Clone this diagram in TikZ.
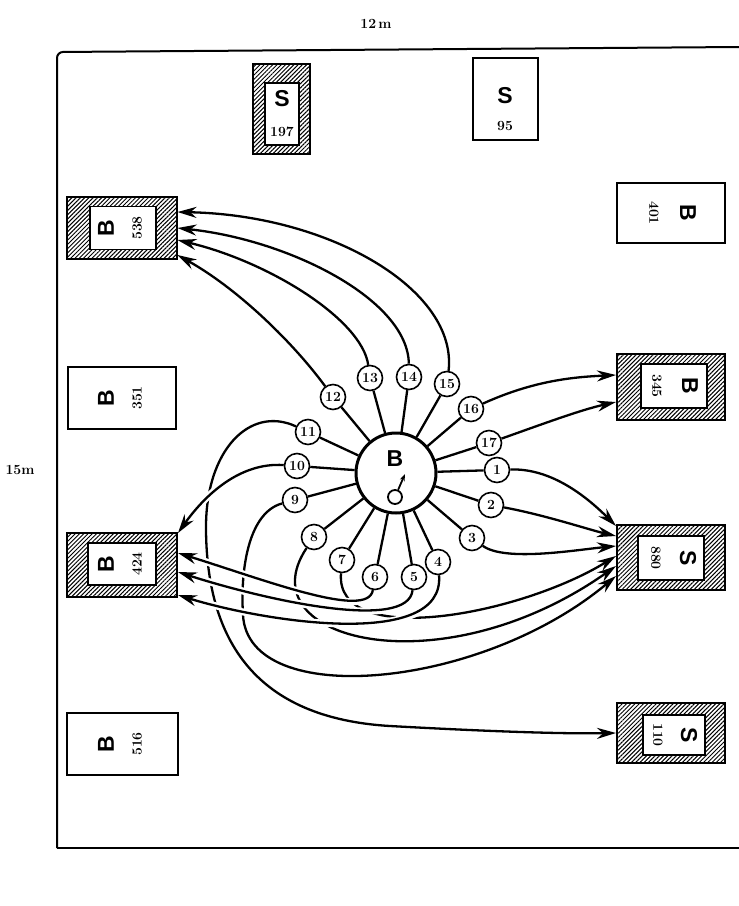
\documentclass[tikz,border=0pt]{standalone}
\usepackage{fontspec}
\newfontfamily\lettersf{Liberation Sans}
\usetikzlibrary{arrows.meta,patterns.meta}

\tikzset{
  field/.style={line width=2pt},
  plainbox/.style={draw, line width=2pt, inner sep=0pt},
  hatchbox/.style={plainbox, pattern={Lines[angle=45,distance=3pt,line width=1pt]}},
  innerbox/.style={draw, line width=1.5pt, fill=white, inner sep=0pt},
  letter/.style={font=\lettersf\bfseries\fontsize{23}{24}\selectfont, inner sep=0pt},
  digits/.style={font=\bfseries\fontsize{14}{15}\selectfont, inner sep=0pt},
  tag/.style={circle, draw, line width=1.6pt, fill=white, inner sep=0pt,
    minimum size=25pt, font=\bfseries\fontsize{14}{15}\selectfont},
  spoke/.style={line width=2.3pt},
  flow/.style={-{Stealth[length=19pt,width=11pt]}, line width=2.3pt},
  over/.style={preaction={draw=white, line width=7pt, -, shorten >=12pt, shorten <=2pt}},
}

\begin{document}
\begin{tikzpicture}[x=1pt, y=-1pt]
  \useasboundingbox (0,0) rectangle (739,906);

  % room outline and its sizes
  \draw[field, rounded corners=6pt] (57,848) -- (57,52) -- (739,47);
  \draw[field] (57,848) -- (739,848);
  \node[digits] (width) at (376,24) {12\,m};
  \node[digits] (height) at (20,470) {15m};

  % boxes, left column
  \node[hatchbox, minimum width=110pt, minimum height=62pt] (b538) at (122,228) {};
  \node[innerbox, minimum width=66pt, minimum height=43pt] (b538in) at (123,228) {};
  \node[letter, rotate=90] (b538l) at (106,228) {B};
  \node[digits, rotate=90] (b538n) at (137,228) {538};

  \node[plainbox, minimum width=108pt, minimum height=62pt] (b351) at (122,398) {};
  \node[letter, rotate=90] (b351l) at (106,398) {B};
  \node[digits, rotate=90] (b351n) at (137,398) {351};

  \node[hatchbox, minimum width=110pt, minimum height=64pt] (b424) at (122,565) {};
  \node[innerbox, minimum width=68pt, minimum height=42pt] (b424in) at (122,564) {};
  \node[letter, rotate=90] (b424l) at (106,564) {B};
  \node[digits, rotate=90] (b424n) at (137,564) {424};

  \node[plainbox, minimum width=111pt, minimum height=62pt] (b516) at (122,744) {};
  \node[letter, rotate=90] (b516l) at (106,744) {B};
  \node[digits, rotate=90] (b516n) at (137,744) {516};

  % boxes, right column
  \node[plainbox, minimum width=108pt, minimum height=60pt] (b401) at (671,213) {};
  \node[digits, rotate=-90] (b401n) at (654,213) {401};
  \node[letter, rotate=-90] (b401l) at (688,213) {B};

  \node[hatchbox, minimum width=108pt, minimum height=66pt] (b345) at (671,387) {};
  \node[innerbox, minimum width=66pt, minimum height=44pt] (b345in) at (674,386) {};
  \node[digits, rotate=-90] (b345n) at (657,386) {345};
  \node[letter, rotate=-90] (b345l) at (690,386) {B};

  \node[hatchbox, minimum width=108pt, minimum height=65pt] (s880) at (671,557) {};
  \node[innerbox, minimum width=66pt, minimum height=44pt] (s880in) at (671,558) {};
  \node[digits, rotate=-90] (s880n) at (656,558) {880};
  \node[letter, rotate=-90] (s880l) at (688,558) {S};

  \node[hatchbox, minimum width=108pt, minimum height=60pt] (s110) at (671,733) {};
  \node[innerbox, minimum width=62pt, minimum height=40pt] (s110in) at (674,735) {};
  \node[digits, rotate=-90] (s110n) at (658,735) {110};
  \node[letter, rotate=-90] (s110l) at (689,735) {S};

  % boxes, top row
  \node[hatchbox, minimum width=57pt, minimum height=90pt] (s197) at (281,109) {};
  \node[innerbox, minimum width=34pt, minimum height=62pt] (s197in) at (282,114) {};
  \node[letter] (s197l) at (282,99) {S};
  \node[digits] (s197n) at (282,132) {197};

  \node[plainbox, minimum width=65pt, minimum height=82pt] (s95) at (505,99) {};
  \node[letter] (s95l) at (505,96) {S};
  \node[digits] (s95n) at (505,126) {95};

  % the male in the middle
  \node[circle, draw, line width=3pt, minimum size=80pt, inner sep=0pt] (hub) at (396,473) {};
  \node[letter] (hubl) at (395,459) {B};
  \node[circle, draw, line width=1.8pt, minimum size=14pt, inner sep=0pt] (male) at (395,497) {};
  \coordinate (maletip) at (405,474);
  \draw[line width=1.8pt, -{Stealth[length=7pt,width=5pt]}] (male) -- (maletip);

  \foreach \n/\x/\y in {1/497/470, 2/491/505, 3/472/538, 4/438/562, 5/414/577,
      6/375/577, 7/342/560, 8/314/537, 9/295/500, 10/297/466, 11/308/432,
      12/333/397, 13/370/378, 14/409/377, 15/447/384, 16/471/409, 17/489/443}
    \node[tag] (t\n) at (\x,\y) {\n};
  \foreach \n in {1,...,17}
    \draw[spoke] (hub) -- (t\n);

  % to B 538
  \draw[flow] (t12) .. controls (295,345) and (240,290) .. ([yshift=-27pt]b538.east);
  \draw[flow] (t13) .. controls (362,320) and (270,262) .. ([yshift=-12pt]b538.east);
  \draw[flow] (t14) .. controls (408,300) and (290,240) .. (b538.east);
  \draw[flow] (t15) .. controls (458,290) and (330,215) .. ([yshift=16pt]b538.east);

  % to B 345
  \draw[flow] (t16) .. controls (535,380) and (575,377) .. ([yshift=12pt]b345.west);
  \draw[flow] (t17) .. controls (540,425) and (580,410) .. ([yshift=-15pt]b345.west);

  % to S 880
  \draw[flow] (t1) .. controls (550,468) and (585,495) .. ([yshift=31pt]s880.west);
  \draw[flow] (t2) .. controls (545,515) and (590,530) .. ([yshift=21pt]s880.west);
  \draw[flow] (t3) .. controls (505,562) and (575,550) .. ([yshift=11pt]s880.west);
  \draw[flow] (t7) .. controls (335,650) and (520,615) .. ([yshift=1pt]s880.west);
  \draw[flow] (t8) .. controls (245,640) and (440,690) .. ([yshift=-9pt]s880.west);
  \draw[flow] (t9) .. controls (250,512) and (240,565) .. (243,615)
    .. controls (248,710) and (480,690) .. ([yshift=-19pt]s880.west);

  % to S 110
  \draw[flow] (t11) .. controls (250,405) and (205,450) .. (206,530)
    .. controls (207,640) and (255,718) .. (390,726)
    .. controls (480,731) and (560,734) .. (s110.west);

  % to B 424, crossing over the others
  \draw[flow, over] (t10) .. controls (240,462) and (205,495) .. ([yshift=32pt]b424.east);
  \draw[flow, over] (t6) .. controls (368,620) and (265,580) .. ([yshift=12pt]b424.east);
  \draw[flow, over] (t5) .. controls (408,632) and (265,600) .. ([yshift=-7pt]b424.east);
  \draw[flow, over] (t4) .. controls (445,650) and (265,622) .. ([yshift=-30pt]b424.east);
\end{tikzpicture}
\end{document}
